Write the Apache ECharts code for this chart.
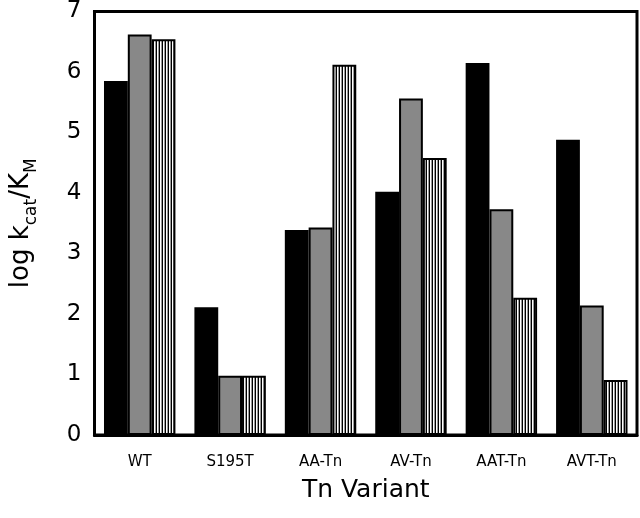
<!DOCTYPE html>
<html><head><meta charset="utf-8">
<script src="https://cdn.jsdelivr.net/npm/echarts@6/dist/echarts.min.js"></script>
<style>html,body{margin:0;padding:0;background:#fff}#c{width:640px;height:518px}</style>
</head><body><div id="c"></div>
<script>
const categories = ['WT', 'S195T', 'AA-Tn', 'AV-Tn', 'AAT-Tn', 'AVT-Tn'];
const seriesBlack = [5.85, 2.11, 3.39, 4.02, 6.15, 4.88];
const seriesGray = [6.62, 0.98, 3.43, 5.56, 3.73, 2.14];
const seriesStriped = [6.54, 0.98, 6.12, 4.58, 2.27, 0.91];
const yTicks = [0, 1, 2, 3, 4, 5, 6, 7];

function stripePattern() {
  const cv = document.createElement('canvas');
  cv.width = 3; cv.height = 4;
  const ctx = cv.getContext('2d');
  ctx.fillStyle = '#ffffff'; ctx.fillRect(0, 0, 3, 4);
  ctx.fillStyle = '#000000'; ctx.fillRect(0, 0, 1, 4);
  ctx.fillStyle = '#9a9a9a'; ctx.fillRect(2, 0, 1, 4);
  return { image: cv, repeat: 'repeat' };
}

const font = '"DejaVu Sans", Verdana, sans-serif';
const chart = echarts.init(document.getElementById('c'), null, { renderer: 'canvas' });
const border = { borderColor: '#000', borderWidth: 2 };
chart.setOption({
  animation: false,
  backgroundColor: '#fff',
  grid: { left: 94, right: 3, top: 11, bottom: 83, show: true, borderColor: '#000', borderWidth: 3, backgroundColor: 'transparent' },
  xAxis: {
    type: 'category', data: categories,
    axisLine: { show: true, lineStyle: { color: '#000', width: 3 } },
    axisTick: { show: false },
    axisLabel: { color: '#000', fontSize: 15, fontFamily: font, margin: 20 },
    name: 'Tn Variant', nameLocation: 'middle', nameGap: 43,
    nameTextStyle: { color: '#000', fontSize: 25, fontFamily: font }
  },
  yAxis: {
    type: 'value', min: yTicks[0], max: yTicks[yTicks.length - 1], interval: 1,
    splitLine: { show: false },
    axisLine: { show: true, lineStyle: { color: '#000', width: 3 } },
    axisTick: { show: false },
    axisLabel: { color: '#000', fontSize: 23, fontFamily: font, margin: 13 },
    name: 'log k{sub|cat}/K{sub|M}', nameLocation: 'middle', nameGap: 54, nameRotate: 90,
    nameTextStyle: {
      color: '#000', fontSize: 26, fontFamily: font,
      rich: { sub: { fontSize: 17, fontFamily: font, color: '#000', verticalAlign: 'bottom', padding: [22, 0, 0, 0] } }
    }
  },
  series: [
    { type: 'bar', data: seriesBlack, barGap: '0%', barCategoryGap: '21%', itemStyle: Object.assign({ color: '#000' }, border) },
    { type: 'bar', data: seriesGray, barGap: '0%', barCategoryGap: '21%', itemStyle: Object.assign({ color: '#888888' }, border) },
    { type: 'bar', data: seriesStriped, barGap: '0%', barCategoryGap: '21%', itemStyle: Object.assign({ color: stripePattern() }, border) }
  ]
});
</script></body></html>
